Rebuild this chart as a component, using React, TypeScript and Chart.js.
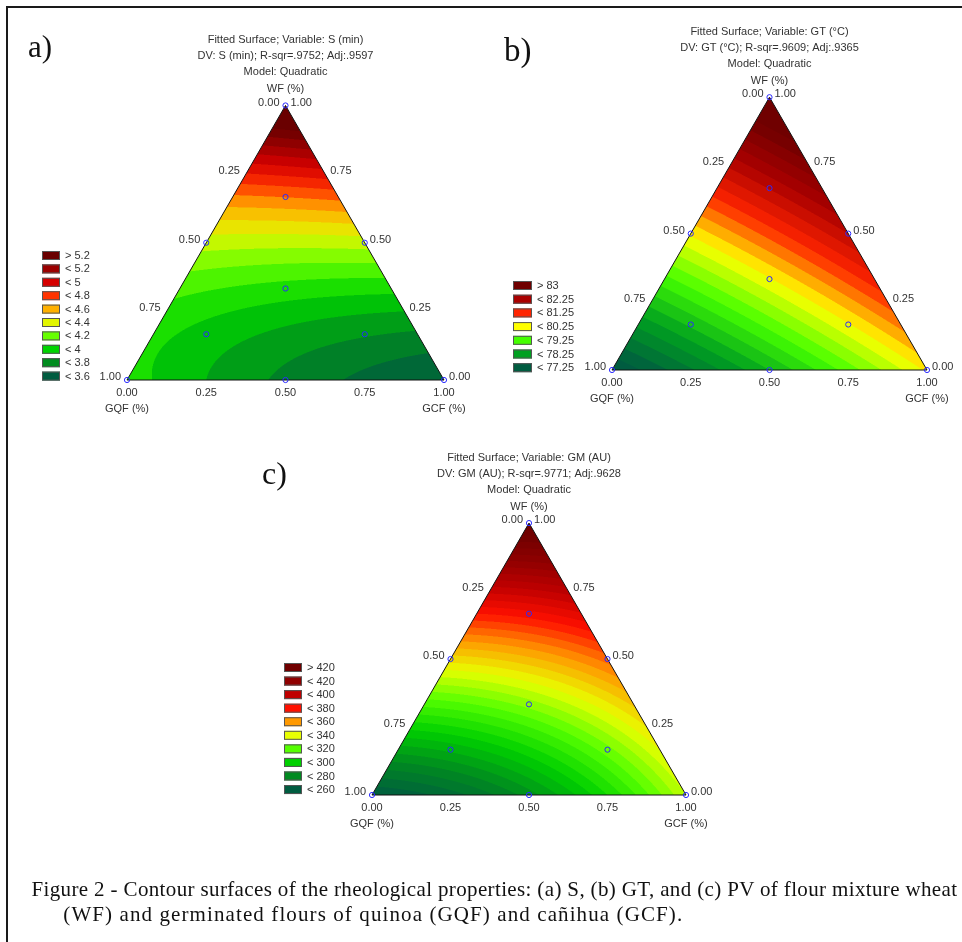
import React, { useEffect, useRef } from 'react';
import { Chart, registerables } from 'chart.js';

Chart.register(...registerables);

const H = Math.sqrt(3) / 2;

// ---------- shared axis data ----------
const tickValues = [0, 0.25, 0.5, 0.75, 1];
const tickLabels = ['0.00', '0.25', '0.50', '0.75', '1.00'];
const axisNames = ['WF (%)', 'GQF (%)', 'GCF (%)'];

// design points (mixture proportions)
const designWF = [1, 0.6667, 0.5, 0.5, 0.3333, 0.1667, 0.1667, 0, 0, 0];
const designGQF = [0, 0.1667, 0.5, 0, 0.3333, 0.6667, 0.1667, 1, 0.5, 0];
const designGCF = [0, 0.1667, 0, 0.5, 0.3333, 0.1667, 0.6667, 0, 0.5, 1];

// ---------- panel a : S (min) ----------
const titleS = ['Fitted Surface; Variable: S (min)', 'DV: S (min); R-sqr=.9752; Adj:.9597', 'Model: Quadratic'];
// coefficients: WF, GQF, GCF, WF*GQF, WF*GCF, GQF*GCF
const coefS = [5.6, 3.95, 3.5, -2.1, -1.2, -0.2];
const levelsS = [3.6, 3.8, 4, 4.2, 4.4, 4.6, 4.8, 5, 5.2];
const legendS = ['> 5.2', '< 5.2', '< 5', '< 4.8', '< 4.6', '< 4.4', '< 4.2', '< 4', '< 3.8', '< 3.6'];
const colorsS = ['#005c40', '#008c1e', '#00d400', '#66ff00', '#e2f500', '#ffb000', '#ff3300', '#d60000', '#9c0000', '#6a0000'];
const stepS = 0.1;

// ---------- panel b : GT (°C) ----------
const titleGT = ['Fitted Surface; Variable: GT (°C)', 'DV: GT (°C); R-sqr=.9609; Adj:.9365', 'Model: Quadratic'];
const coefGT = [83.4, 76.5, 79.8, -0.6, -0.4, -0.6];
const levelsGT = [77.25, 78.25, 79.25, 80.25, 81.25, 82.25];
const legendGT = ['> 83', '< 82.25', '< 81.25', '< 80.25', '< 79.25', '< 78.25', '< 77.25'];
const colorsGT = ['#005c40', '#00a020', '#44ff00', '#ffff00', '#ff2400', '#aa0000', '#700000'];
const stepGT = 0.25;

// ---------- panel c : GM (AU) ----------
const titleGM = ['Fitted Surface; Variable: GM (AU)', 'DV: GM (AU); R-sqr=.9771; Adj:.9628', 'Model: Quadratic'];
const coefGM = [440, 250, 325, -30, -100, -60];
const levelsGM = [260, 280, 300, 320, 340, 360, 380, 400, 420];
const legendGM = ['> 420', '< 420', '< 400', '< 380', '< 360', '< 340', '< 320', '< 300', '< 280', '< 260'];
const colorsGM = ['#005c40', '#008a20', '#00d000', '#55ff00', '#e8ff00', '#ff9900', '#ff1000', '#c00000', '#900000', '#700000'];
const stepGM = 5;

const panelLetters = ['a)', 'b)', 'c)'];
const captionLines = [
  'Figure 2 - Contour surfaces of the rheological properties: (a) S, (b) GT, and (c) PV of flour mixture wheat',
  '(WF) and germinated flours of quinoa (GQF) and cañihua (GCF).',
];

// ---------- layout (positions only) ----------
const panels = [
  {
    title: titleS, coef: coefS, levels: levelsS, legend: legendS, colors: colorsS, step: stepS,
    geo: { left: 127, right: 444, base: 380, legX: 42, legTop: 251, legGap: 13.4, swW: 18, swH: 9, legTextX: 65 },
  },
  {
    title: titleGT, coef: coefGT, levels: levelsGT, legend: legendGT, colors: colorsGT, step: stepGT,
    geo: { left: 612, right: 927, base: 370, legX: 513, legTop: 281, legGap: 13.7, swW: 19, swH: 9, legTextX: 537 },
  },
  {
    title: titleGM, coef: coefGM, levels: levelsGM, legend: legendGM, colors: colorsGM, step: stepGM,
    geo: { left: 372, right: 686, base: 795, legX: 284, legTop: 663, legGap: 13.56, swW: 18, swH: 9, legTextX: 307 },
  },
];

const FONT = "11px 'Liberation Sans', Arial, sans-serif";
const TEXT = '#333333';

function hexToRgb(h: string) {
  const n = parseInt(h.slice(1), 16);
  return [(n >> 16) & 255, (n >> 8) & 255, n & 255];
}

function evalModel(b: number[], W: number, Q: number, C: number) {
  return b[0] * W + b[1] * Q + b[2] * C + b[3] * W * Q + b[4] * W * C + b[5] * Q * C;
}

function makeColorFn(levels: number[], colors: string[], step: number) {
  const d = levels[1] - levels[0];
  const n = levels.length;
  const anchors: number[] = [];
  for (let i = 0; i <= n; i++) {
    if (i === 0) anchors.push(levels[0] - d / 2);
    else if (i === n) anchors.push(levels[n - 1] + d / 2);
    else anchors.push((levels[i - 1] + levels[i]) / 2);
  }
  const rgb = colors.map(hexToRgb);
  const cache = new Map<number, number[]>();
  return (v: number) => {
    const idx = Math.floor((v - levels[0]) / step + 1e-9);
    const hit = cache.get(idx);
    if (hit) return hit;
    const vq = levels[0] + (idx + 0.5) * step;
    let col: number[];
    if (vq <= anchors[0]) col = rgb[0];
    else if (vq >= anchors[n]) col = rgb[n];
    else {
      let k = 0;
      while (k < n && vq > anchors[k + 1]) k++;
      const t = (vq - anchors[k]) / (anchors[k + 1] - anchors[k]);
      col = [0, 1, 2].map((c) => Math.round(rgb[k][c] + (rgb[k + 1][c] - rgb[k][c]) * t));
    }
    cache.set(idx, col);
    return col;
  };
}

const ternaryPlugin = {
  id: 'ternary',
  beforeDatasetsDraw(chart: any, _args: any, opts: any) {
    const p = opts.panel;
    if (!p) return;
    const { ctx, chartArea, scales } = chart;
    const xs = scales.x;
    const ys = scales.y;
    const colorFor = makeColorFn(p.levels, p.colors, p.step);
    const ss = 2;
    const x0 = Math.floor(chartArea.left) - 1;
    const y0 = Math.floor(chartArea.top) - 1;
    const w = Math.ceil(chartArea.right) - x0 + 2;
    const h = Math.ceil(chartArea.bottom) - y0 + 2;
    const off = document.createElement('canvas');
    off.width = w * ss;
    off.height = h * ss;
    const octx = off.getContext('2d') as CanvasRenderingContext2D;
    const img = octx.createImageData(w * ss, h * ss);
    const data = img.data;
    const ww = w * ss;
    const hh = h * ss;
    for (let j = 0; j < hh; j++) {
      const yv = ys.getValueForPixel(y0 + (j + 0.5) / ss);
      const W = yv / H;
      for (let i = 0; i < ww; i++) {
        const xv = xs.getValueForPixel(x0 + (i + 0.5) / ss);
        const C = xv - W / 2;
        const Q = 1 - W - C;
        const c = colorFor(evalModel(p.coef, W, Q, C));
        const k = (j * ww + i) * 4;
        data[k] = c[0];
        data[k + 1] = c[1];
        data[k + 2] = c[2];
        data[k + 3] = 255;
      }
    }
    octx.putImageData(img, 0, 0);

    const top = [xs.getPixelForValue(0.5), ys.getPixelForValue(H)];
    const bl = [xs.getPixelForValue(0), ys.getPixelForValue(0)];
    const br = [xs.getPixelForValue(1), ys.getPixelForValue(0)];

    ctx.save();
    ctx.beginPath();
    ctx.moveTo(top[0], top[1]);
    ctx.lineTo(bl[0], bl[1]);
    ctx.lineTo(br[0], br[1]);
    ctx.closePath();
    ctx.clip();
    ctx.imageSmoothingEnabled = true;
    ctx.drawImage(off, x0, y0, w, h);
    ctx.restore();

    ctx.save();
    ctx.beginPath();
    ctx.moveTo(top[0], top[1]);
    ctx.lineTo(bl[0], bl[1]);
    ctx.lineTo(br[0], br[1]);
    ctx.closePath();
    ctx.strokeStyle = '#111';
    ctx.lineWidth = 1;
    ctx.stroke();
    ctx.restore();
  },
  afterDraw(chart: any, _args: any, opts: any) {
    const p = opts.panel;
    if (!p) return;
    const { ctx, scales } = chart;
    const xs = scales.x;
    const ys = scales.y;
    const px = (W: number, C: number) => [xs.getPixelForValue(C + W / 2), ys.getPixelForValue(W * H)];
    const top = px(1, 0);
    const bl = px(0, 0);
    const br = px(0, 1);
    ctx.save();
    ctx.font = FONT;
    ctx.fillStyle = TEXT;
    ctx.textBaseline = 'middle';
    // titles
    ctx.textAlign = 'center';
    ctx.fillText(p.title[0], top[0], top[1] - 65.5);
    ctx.fillText(p.title[1], top[0], top[1] - 49.5);
    ctx.fillText(p.title[2], top[0], top[1] - 33.3);
    ctx.fillText(axisNames[0], top[0], top[1] - 16.3);
    // left edge (GQF)
    ctx.textAlign = 'right';
    tickValues.forEach((t, i) => {
      const q = px(1 - t, 0);
      ctx.fillText(tickLabels[i], q[0] - 6, q[1] - 3);
    });
    // right edge (WF)
    ctx.textAlign = 'left';
    tickValues.forEach((t, i) => {
      const q = px(t, 1 - t);
      ctx.fillText(tickLabels[i], q[0] + 5, q[1] - 3);
    });
    // bottom (GCF)
    ctx.textAlign = 'center';
    tickValues.forEach((t, i) => {
      const q = px(0, t);
      ctx.fillText(tickLabels[i], q[0], q[1] + 13);
    });
    ctx.fillText(axisNames[1], bl[0], bl[1] + 28.5);
    ctx.fillText(axisNames[2], br[0], br[1] + 28.5);
    // legend
    const g = p.geo;
    const n = p.legend.length;
    ctx.textAlign = 'left';
    for (let i = 0; i < n; i++) {
      const y = g.legTop + i * g.legGap;
      ctx.fillStyle = p.colors[n - 1 - i];
      ctx.fillRect(g.legX, y, g.swW, g.swH);
      ctx.strokeStyle = '#555';
      ctx.lineWidth = 1;
      ctx.strokeRect(g.legX + 0.5, y + 0.5, g.swW - 1, g.swH - 1);
      ctx.fillStyle = TEXT;
      ctx.fillText(p.legend[i], g.legTextX, y + g.swH / 2 + 0.5);
    }
    ctx.restore();
  },
};

function TernaryChart({ panel }: { panel: any }) {
  const ref = useRef<HTMLCanvasElement | null>(null);
  useEffect(() => {
    if (!ref.current) return;
    const g = panel.geo;
    const width = g.right - g.left;
    const topY = g.base - width * H;
    const points = designWF.map((w, i) => ({ x: designGCF[i] + w / 2, y: w * H, q: designGQF[i] }));
    const chart = new Chart(ref.current, {
      type: 'scatter',
      data: {
        datasets: [
          {
            data: points,
            pointRadius: 2.6,
            pointBorderWidth: 1,
            pointBorderColor: '#2a2aff',
            pointBackgroundColor: 'rgba(0,0,0,0)',
            clip: false as any,
          },
        ],
      },
      options: {
        responsive: false,
        animation: false,
        events: [],
        layout: { padding: { left: g.left, right: 962 - g.right, top: topY, bottom: 942 - g.base } },
        scales: {
          x: { type: 'linear', min: 0, max: 1, display: false },
          y: { type: 'linear', min: 0, max: H, display: false },
        },
        plugins: {
          legend: { display: false },
          tooltip: { enabled: false },
          title: { display: false },
          ternary: { panel },
        } as any,
      },
      plugins: [ternaryPlugin as any],
    });
    return () => chart.destroy();
  }, [panel]);
  return (
    <canvas
      ref={ref}
      width={962}
      height={942}
      style={{ position: 'absolute', left: 0, top: 0, width: 962, height: 942 }}
    />
  );
}

export default function App() {
  const serif = "'Liberation Serif', 'Times New Roman', serif";
  const letterPos = [
    { left: 28, top: 30.5, size: 31 },
    { left: 504, top: 34, size: 33 },
    { left: 262, top: 456.5, size: 32 },
  ];
  return (
    <div style={{ position: 'absolute', left: 0, top: 0, width: 962, height: 942, background: '#fff', overflow: 'hidden' }}>
      <div
        style={{
          position: 'absolute', left: 6, top: 6, right: 0, bottom: 0,
          borderTop: '2px solid #1a1a1a', borderLeft: '2px solid #1a1a1a',
        }}
      />
      {panels.map((p, i) => (
        <TernaryChart key={i} panel={p} />
      ))}
      {panelLetters.map((t, i) => (
        <div
          key={t}
          style={{
            position: 'absolute', left: letterPos[i].left, top: letterPos[i].top,
            fontFamily: serif, fontSize: letterPos[i].size, lineHeight: `${letterPos[i].size}px`,
            color: '#111', whiteSpace: 'nowrap',
          }}
        >
          {t}
        </div>
      ))}
      <div
        style={{
          position: 'absolute', left: 31.5, top: 876.6, fontFamily: serif, fontSize: 21,
          letterSpacing: '0.36px', lineHeight: '25px', color: '#111', whiteSpace: 'nowrap',
        }}
      >
        {captionLines[0]}
      </div>
      <div
        style={{
          position: 'absolute', left: 63.3, top: 901.6, fontFamily: serif, fontSize: 21,
          letterSpacing: '1.1px', lineHeight: '25px', color: '#111', whiteSpace: 'nowrap',
        }}
      >
        {captionLines[1]}
      </div>
    </div>
  );
}
